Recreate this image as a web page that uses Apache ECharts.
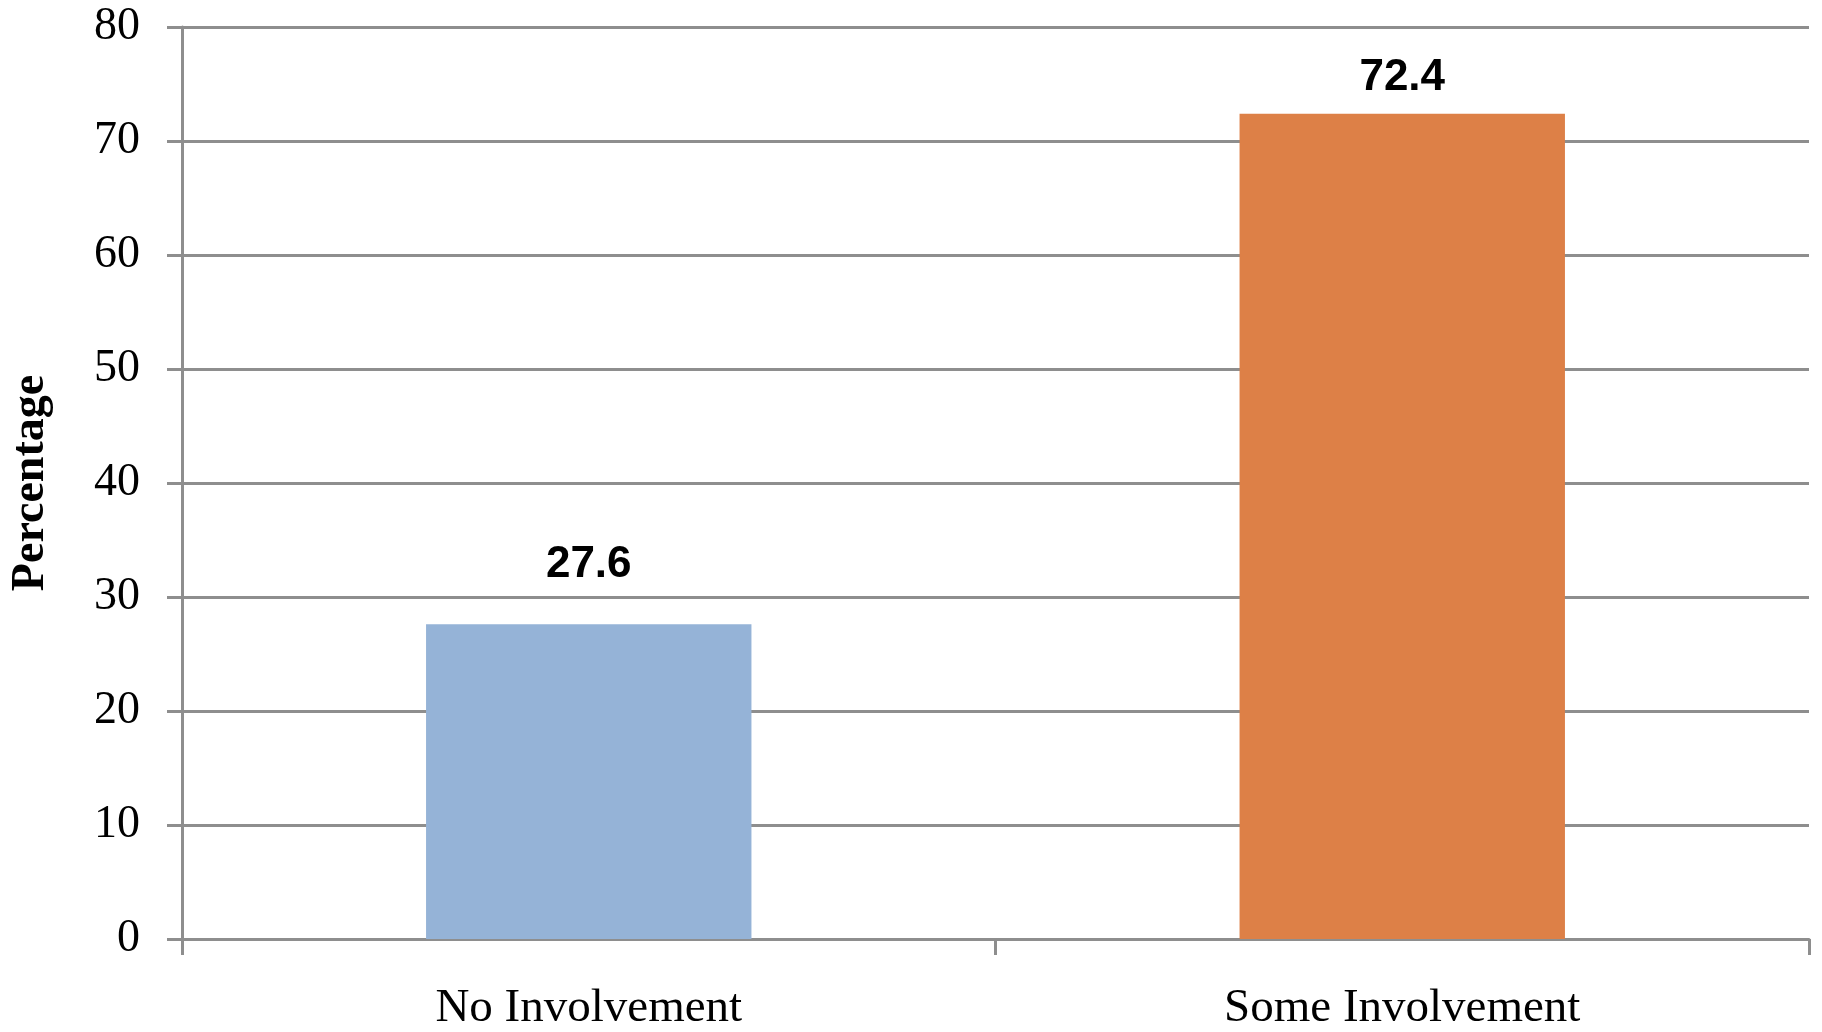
<!DOCTYPE html>
<html>
<head>
<meta charset="utf-8">
<script src="https://cdn.jsdelivr.net/npm/echarts@6/dist/echarts.min.js"></script>
<style>
html,body{margin:0;padding:0;background:#fff;}
#c{width:1822px;height:1032px;}
</style>
</head>
<body>
<div id="c"></div>
<script>
const categories = ["No Involvement", "Some Involvement"];
const values = [27.6, 72.4];
const barColors = ["#95B3D7", "#DD8047"];
const yTicks = { min: 0, max: 80, interval: 10 };

const labelDistances = [38, 14];

const chart = echarts.init(document.getElementById('c'), null, { renderer: 'canvas' });
const gray = '#8e8e8e';
chart.setOption({
  animation: false,
  backgroundColor: '#fff',
  grid: { left: 158, right: 13, top: 27, bottom: 93, containLabel: false },
  xAxis: {
    type: 'category',
    data: categories,
    axisLine: { show: true, lineStyle: { color: gray, width: 3 } },
    axisTick: { show: true, length: 16, lineStyle: { color: gray, width: 3 } },
    axisLabel: { fontFamily: 'Liberation Serif', fontSize: 47, color: '#000', margin: 46 },
    splitLine: { show: false }
  },
  yAxis: {
    type: 'value',
    min: yTicks.min, max: yTicks.max, interval: yTicks.interval,
    name: 'Percentage',
    nameLocation: 'middle',
    nameGap: 128,
    nameRotate: 90,
    nameTextStyle: { fontFamily: 'Liberation Serif', fontWeight: 'bold', fontSize: 46, color: '#000' },
    axisLine: { show: true, lineStyle: { color: gray, width: 3 } },
    axisTick: { show: true, length: 15, lineStyle: { color: gray, width: 3 } },
    axisLabel: { fontFamily: 'Liberation Serif', fontSize: 46, color: '#000', margin: 42 },
    splitLine: { show: true, lineStyle: { color: gray, width: 3 } }
  },
  series: [{
    type: 'bar',
    barWidth: '40%',
    data: values.map((v, i) => ({
      value: v,
      itemStyle: { color: barColors[i] },
      label: { distance: labelDistances[i] }
    })),
    label: {
      show: true,
      position: 'top',
      fontFamily: 'Liberation Sans',
      fontWeight: 'bold',
      fontSize: 44,
      color: '#000'
    }
  }]
});
</script>
</body>
</html>
